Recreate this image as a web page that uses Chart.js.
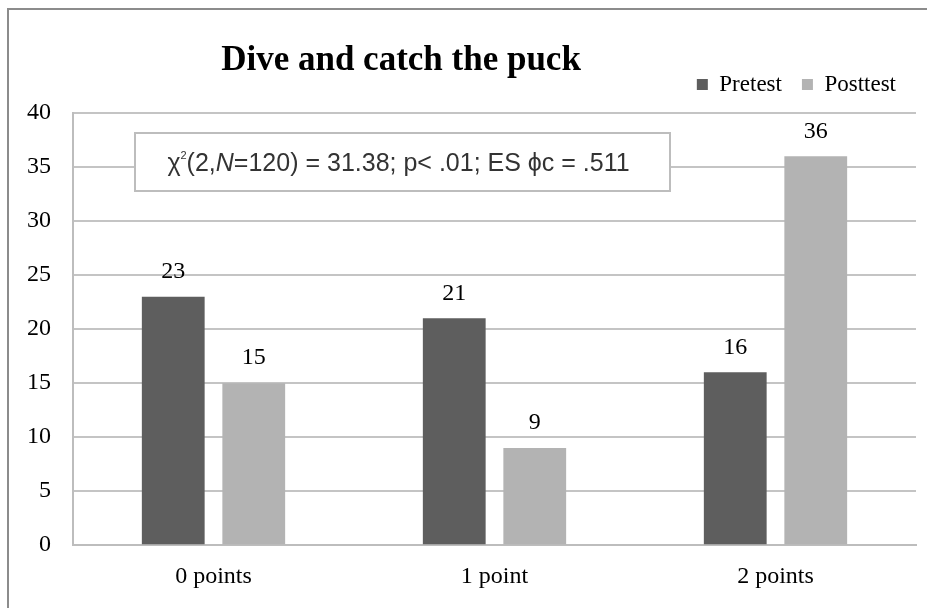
<!DOCTYPE html>
<html>
<head>
<meta charset="utf-8">
<script src="https://cdn.jsdelivr.net/npm/chart.js@4/dist/chart.umd.min.js"></script>
<style>
  html, body { margin: 0; padding: 0; background: #fff; }
  #wrap { position: relative; width: 927px; height: 608px; overflow: hidden; }
  #frame { position: absolute; left: 7px; top: 8px; width: 1000px; height: 1000px;
           border: 2px solid #8c8c8c; box-sizing: border-box; pointer-events: none; }
  canvas { position: absolute; left: 0; top: 0; }
</style>
</head>
<body>
<div id="wrap">
  <canvas id="chart" width="927" height="608"></canvas>
  <div id="frame"></div>
</div>
<script>
// Response counts per score category
const categories = ['0 points', '1 point', '2 points'];
const pretest = [23, 21, 16];
const posttest = [15, 9, 36];
const seriesNames = ['Pretest', 'Posttest'];
const yMin = 0, yMax = 40, yStep = 5;

const chartTitle = 'Dive and catch the puck';
// χ²(2, N=120) = 31.38; p< .01; ES ϕc = .511 — split for the superscript and italic parts
const statParts = [
  { text: 'χ' },
  { text: '2', sup: true },
  { text: '(2,' },
  { text: 'N', italic: true },
  { text: '=120) = 31.38; p< .01; ES ϕc = .511' }
];

const SERIF = '"Liberation Serif", "Times New Roman", serif';
const SANS = '"Liberation Sans", Arial, sans-serif';

// Heading drawn left of the plot centre
const titlePlugin = {
  id: 'heading',
  afterDraw(chart) {
    const ctx = chart.ctx;
    ctx.save();
    ctx.font = 'bold 35px ' + SERIF;
    ctx.fillStyle = '#000';
    ctx.textAlign = 'center';
    ctx.textBaseline = 'alphabetic';
    ctx.fillText(chartTitle, 401, 70);
    ctx.restore();
  }
};

// Test statistic in a framed text box over the upper plot area
const statBoxPlugin = {
  id: 'statBox',
  afterDatasetsDraw(chart) {
    const ctx = chart.ctx;
    const area = chart.chartArea;
    const x0 = area.left + 62, x1 = 670, y0 = 133, y1 = 191;
    ctx.save();
    ctx.fillStyle = '#fff';
    ctx.fillRect(x0, y0, x1 - x0, y1 - y0);
    ctx.strokeStyle = '#bdbdbd';
    ctx.lineWidth = 2;
    ctx.strokeRect(x0, y0, x1 - x0, y1 - y0);

    const size = 25;
    const fontFor = p => (p.italic ? 'italic ' : '') + (p.sup ? Math.round(size * 0.45) : size) + 'px ' + SANS;
    let total = 0;
    statParts.forEach(p => { ctx.font = fontFor(p); total += ctx.measureText(p.text).width; });
    let x = (x0 + x1) / 2 - 4 - total / 2;
    const base = (y0 + y1) / 2 + 9;
    ctx.fillStyle = '#333';
    ctx.textBaseline = 'alphabetic';
    ctx.textAlign = 'left';
    statParts.forEach(p => {
      ctx.font = fontFor(p);
      ctx.fillText(p.text, x, p.sup ? base - 12 : base);
      x += ctx.measureText(p.text).width;
    });
    ctx.restore();
  }
};

// Value printed above each bar
const valueLabelPlugin = {
  id: 'valueLabels',
  afterDatasetsDraw(chart) {
    const ctx = chart.ctx;
    ctx.save();
    ctx.font = '24px ' + SERIF;
    ctx.fillStyle = '#000';
    ctx.textAlign = 'center';
    ctx.textBaseline = 'middle';
    chart.data.datasets.forEach((ds, i) => {
      chart.getDatasetMeta(i).data.forEach((bar, j) => {
        ctx.fillText(String(ds.data[j]), bar.x, bar.y - 25);
      });
    });
    ctx.restore();
  }
};

// Extra space between the legend row and the plot
const legendGapPlugin = {
  id: 'legendGap',
  beforeInit(chart) {
    const fit = chart.legend && chart.legend.fit;
    if (!fit) return;
    chart.legend.fit = function () {
      fit.call(this);
      this.height += 7;
    };
  }
};

new Chart(document.getElementById('chart'), {
  type: 'bar',
  data: {
    labels: categories,
    datasets: [
      { label: seriesNames[0], data: pretest, backgroundColor: '#5e5e5e',
        categoryPercentage: 0.573, barPercentage: 0.78 },
      { label: seriesNames[1], data: posttest, backgroundColor: '#b3b3b3',
        categoryPercentage: 0.573, barPercentage: 0.78 }
    ]
  },
  options: {
    responsive: false,
    animation: false,
    devicePixelRatio: 1,
    layout: { padding: { left: 5, right: 11, top: 53, bottom: 0 } },
    plugins: {
      title: { display: false },
      tooltip: { enabled: false },
      legend: {
        position: 'top',
        align: 'end',
        fullSize: false,
        labels: {
          boxWidth: 11, boxHeight: 11, padding: 20, color: '#000',
          font: { family: SERIF, size: 23 }
        }
      }
    },
    scales: {
      x: {
        grid: { display: false, drawTicks: false },
        border: { display: true, color: '#bdbdbd', width: 2 },
        ticks: { color: '#000', padding: 17, font: { family: SERIF, size: 24 } }
      },
      y: {
        min: yMin, max: yMax,
        grid: { color: '#c4c4c4', lineWidth: 2, drawTicks: false },
        border: { display: true, color: '#bdbdbd', width: 2 },
        ticks: { stepSize: yStep, padding: 22, color: '#000', font: { family: SERIF, size: 24 } }
      }
    }
  },
  plugins: [legendGapPlugin, titlePlugin, statBoxPlugin, valueLabelPlugin]
});
</script>
</body>
</html>
